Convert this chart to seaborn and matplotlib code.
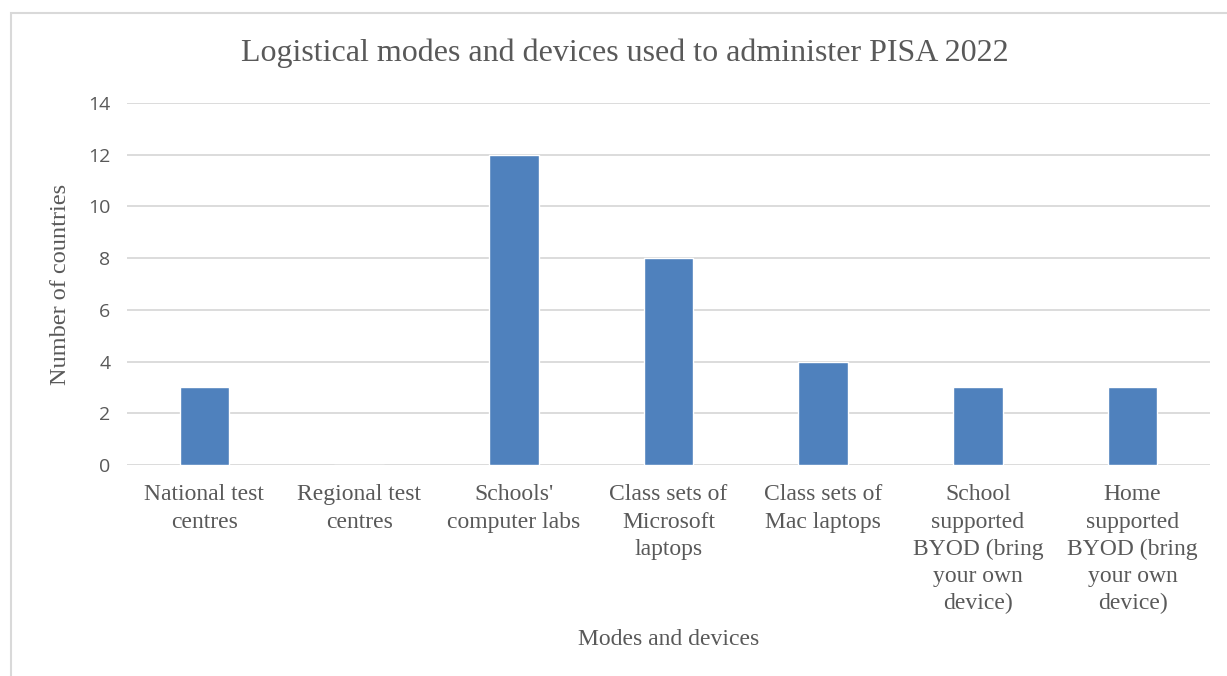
import pandas as pd
import seaborn as sns
import matplotlib.pyplot as plt
from matplotlib.patches import Rectangle

# Dados
categorias = ["National test\ncentres", "Regional test\ncentres", "Schools'\ncomputer labs",
              "Class sets of\nMicrosoft\nlaptops", "Class sets of\nMac laptops",
              "School\nsupported\nBYOD (bring\nyour own\ndevice)",
              "Home\nsupported\nBYOD (bring\nyour own\ndevice)"]
paises = [3, 0, 12, 8, 4, 3, 3]
yticks = [0, 2, 4, 6, 8, 10, 12, 14]

df = pd.DataFrame({"Modo": categorias, "Paises": paises})

sns.set_style("white")
cinza = "#595959"
serif = ["Liberation Serif", "DejaVu Serif"]

fig = plt.figure(figsize=(12.27, 6.76), dpi=100)
ax = fig.add_axes([127/1227, 1 - 465/676, (1210 - 127)/1227, (465 - 103)/676])

sns.barplot(x="Modo", y="Paises", data=df, color="#4F81BD", width=0.32,
            saturation=1, ax=ax, zorder=3)

ax.set_ylim(0, 14)
ax.set_yticks(yticks)
ax.yaxis.grid(True, color="#D9D9D9", linewidth=1.3, zorder=0)
ax.set_axisbelow(True)
sns.despine(ax=ax, left=True, bottom=True)

ax.tick_params(axis="y", length=0, pad=12, labelsize=14, labelcolor=cinza)
ax.tick_params(axis="x", length=0, pad=14)
for lab in ax.get_yticklabels():
    lab.set_family(["Open Sans", "DejaVu Sans"])
ax.set_xticks(range(len(categorias)))
ax.set_xticklabels(categorias, family=serif, fontsize=17, color=cinza,
                   linespacing=1.38, va="top")

ax.set_xlabel("Modes and devices", family=serif, fontsize=17, color=cinza)
ax.set_ylabel("Number of countries", family=serif, fontsize=17.5, color=cinza)
ax.xaxis.set_label_coords(0.5, -0.453)
ax.yaxis.set_label_coords(-0.052, 0.5)

fig.text(625/1227, 1 - 53/676, "Logistical modes and devices used to administer PISA 2022",
         family=serif, fontsize=23, color=cinza, ha="center", va="center")

# moldura do grafico
fig.patches.append(Rectangle((11/1227, -0.1), 1.2, 1.1 - 13/676, transform=fig.transFigure,
                             fill=False, edgecolor="#D9D9D9", linewidth=1.5))

fig.savefig("out.png", dpi=100)
